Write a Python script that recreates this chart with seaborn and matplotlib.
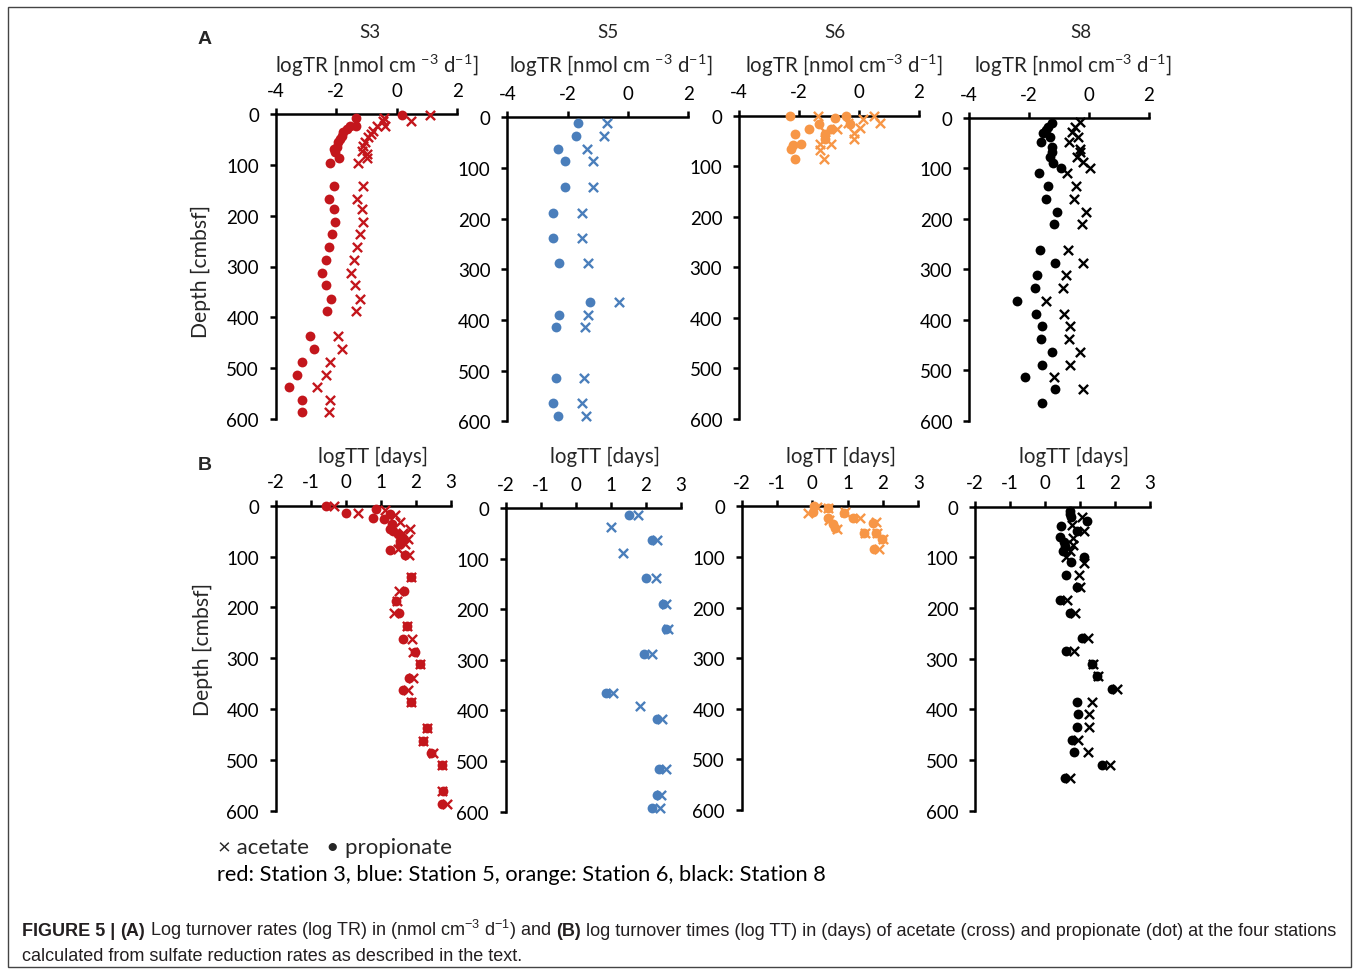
import numpy as np
import matplotlib
matplotlib.use("Agg")
import matplotlib.pyplot as plt
import seaborn as sns
from matplotlib.patches import Rectangle
from matplotlib import font_manager

# ---------------- data ----------------
RED, BLUE, ORANGE, BLACK = "#C3161C", "#4A7EBB", "#F79646", "#000000"

# Panel A: log turnover rates (logTR)
s3_tr_prop_depth = [1, 8, 24, 23, 30, 36, 43, 49, 56, 64, 68, 75, 87, 96, 142, 167, 187, 213, 237, 262, 287, 312, 337, 363, 387, 437, 462, 488, 513, 538, 563, 587]
s3_tr_prop = [0.18, -1.36, -1.36, -1.54, -1.65, -1.76, -1.82, -1.87, -1.93, -1.98, -2.07, -2.04, -1.92, -2.20, -2.06, -2.25, -2.08, -2.05, -2.14, -2.23, -2.33, -2.47, -2.33, -2.16, -2.29, -2.88, -2.74, -3.14, -3.28, -3.56, -3.14, -3.14]
s3_tr_ace_depth = [2, 14, 7, 14, 24, 23, 33, 39, 46, 56, 62, 72, 79, 87, 96, 142, 167, 187, 213, 237, 262, 287, 312, 337, 363, 387, 437, 462, 488, 513, 538, 563, 587]
s3_tr_ace = [1.11, 0.46, -0.42, -0.46, -0.39, -0.66, -0.77, -0.86, -0.94, -1.05, -1.13, -1.16, -1.00, -0.97, -1.27, -1.13, -1.32, -1.14, -1.10, -1.21, -1.30, -1.40, -1.52, -1.38, -1.20, -1.36, -1.95, -1.80, -2.20, -2.35, -2.62, -2.20, -2.23]

s5_tr_depth = [12, 37, 62, 87, 137, 188, 238, 287, 364, 390, 414, 514, 564, 589]
s5_tr_prop = [-1.65, -1.73, -2.32, -2.10, -2.10, -2.49, -2.49, -2.28, -1.25, -2.29, -2.37, -2.40, -2.47, -2.32]
s5_tr_ace = [-0.70, -0.80, -1.37, -1.16, -1.15, -1.53, -1.53, -1.34, -0.31, -1.34, -1.42, -1.46, -1.52, -1.39]

s6_tr_prop_depth = [0, 5, 1, 16, 16, 26, 36, 36, 26, 46, 56, 57, 66, 86]
s6_tr_prop = [-2.31, -0.81, -0.44, -0.29, -1.33, -1.66, -2.12, -1.13, -0.92, -1.13, -1.92, -2.19, -2.25, -2.14]
s6_tr_ace_depth = [0, 7, 0, 15, 14, 26, 25, 35, 46, 33, 56, 56, 67, 86]
s6_tr_ace = [-1.38, 0.13, 0.49, 0.69, -0.37, -0.73, 0.02, -0.17, -0.17, -1.14, -0.94, -1.31, -1.29, -1.18]

s8_tr_prop_depth = [9, 17, 24, 29, 38, 48, 58, 67, 78, 89, 99, 110, 135, 160, 186, 211, 262, 287, 311, 337, 362, 388, 413, 438, 464, 489, 513, 538, 564]
s8_tr_prop = [-1.23, -1.36, -1.45, -1.53, -1.29, -1.61, -1.23, -1.23, -1.30, -1.19, -0.95, -1.68, -1.37, -1.45, -1.06, -1.16, -1.63, -1.15, -1.73, -1.81, -2.39, -1.77, -1.58, -1.60, -1.24, -1.58, -2.12, -1.15, -1.58]
s8_tr_ace_depth = [7, 17, 27, 37, 48, 62, 68, 78, 88, 99, 110, 135, 160, 186, 211, 262, 287, 311, 337, 362, 388, 413, 438, 464, 489, 513, 538]
s8_tr_ace = [-0.29, -0.46, -0.56, -0.36, -0.67, -0.29, -0.29, -0.39, -0.20, 0.02, -0.75, -0.42, -0.51, -0.11, -0.22, -0.69, -0.20, -0.78, -0.86, -1.44, -0.82, -0.62, -0.66, -0.29, -0.62, -1.16, -0.20]

# Panel B: log turnover times (logTT)
s3_tt_prop_depth = [0, 14, 7, 25, 26, 16, 36, 46, 49, 56, 69, 66, 75, 87, 97, 141, 167, 187, 212, 236, 262, 287, 311, 338, 362, 387, 437, 462, 487, 511, 562, 587]
s3_tt_prop = [-0.57, 0.01, 0.86, 0.79, 1.10, 1.27, 1.31, 1.27, 1.36, 1.50, 1.55, 1.65, 1.54, 1.27, 1.68, 1.87, 1.66, 1.44, 1.52, 1.74, 1.63, 1.98, 2.12, 1.82, 1.65, 1.86, 2.31, 2.20, 2.44, 2.76, 2.77, 2.74]
s3_tt_ace_depth = [1, 15, 8, 18, 33, 46, 54, 66, 75, 85, 97, 141, 167, 187, 212, 236, 262, 287, 311, 338, 362, 387, 437, 462, 487, 511, 562, 587]
s3_tt_ace = [-0.33, 0.34, 1.13, 1.41, 1.55, 1.84, 1.65, 1.79, 1.70, 1.50, 1.82, 1.87, 1.52, 1.46, 1.38, 1.74, 1.88, 1.93, 2.12, 1.93, 1.79, 1.86, 2.31, 2.22, 2.50, 2.74, 2.74, 2.89]

s5_tt_prop_depth = [13, 63, 138, 189, 239, 289, 366, 416, 516, 567, 592]
s5_tt_prop = [1.52, 2.19, 2.02, 2.50, 2.57, 1.95, 0.86, 2.33, 2.38, 2.31, 2.19]
s5_tt_ace_depth = [13, 38, 89, 63, 138, 189, 239, 289, 366, 391, 416, 516, 567, 592]
s5_tt_ace = [1.79, 1.01, 1.35, 2.33, 2.29, 2.57, 2.64, 2.17, 1.07, 1.84, 2.46, 2.57, 2.45, 2.40]

s6_tt_prop_depth = [0, 12, 4, 24, 35, 42, 13, 24, 53, 33, 53, 64, 84]
s6_tt_prop = [0.06, 0.03, 0.43, 0.45, 0.59, 0.64, 0.90, 1.16, 1.47, 1.71, 1.80, 1.96, 1.75]
s6_tt_ace_depth = [13, 2, 4, 27, 45, 12, 24, 53, 32, 53, 65, 84]
s6_tt_ace = [-0.11, 0.12, 0.45, 0.48, 0.71, 0.93, 1.36, 1.50, 1.80, 1.84, 2.00, 1.88]

s8_tt_prop_depth = [8, 14, 21, 29, 39, 47, 59, 69, 78, 88, 99, 109, 134, 159, 184, 210, 260, 285, 310, 335, 360, 385, 410, 435, 460, 485, 510, 536]
s8_tt_prop = [0.70, 0.71, 0.73, 1.19, 0.45, 0.90, 0.43, 0.55, 0.57, 0.50, 1.10, 0.73, 0.60, 0.90, 0.43, 0.71, 1.07, 0.59, 1.35, 1.48, 1.90, 0.92, 0.95, 0.92, 0.76, 0.82, 1.63, 0.57]
s8_tt_ace_depth = [20, 47, 37, 62, 75, 87, 100, 111, 135, 159, 184, 210, 260, 285, 310, 335, 360, 385, 410, 435, 460, 485, 510, 536]
s8_tt_ace = [1.05, 1.11, 0.76, 0.79, 0.81, 0.70, 0.60, 1.10, 0.97, 1.00, 0.62, 0.86, 1.22, 0.83, 1.38, 1.50, 2.05, 1.35, 1.27, 1.27, 0.95, 1.24, 1.86, 0.70]

stations = ["S3", "S5", "S6", "S8"]
tr_label = ["logTR [nmol cm $^{-3}$ d$^{-1}$]", "logTR [nmol cm $^{-3}$ d$^{-1}$]",
            "logTR [nmol cm$^{-3}$ d$^{-1}$]", "logTR [nmol cm$^{-3}$ d$^{-1}$]"]
tt_label = "logTT [days]"
depth_label = "Depth [cmbsf]"
tr_ticks = [-4, -2, 0, 2]
tt_ticks = [-2, -1, 0, 1, 2, 3]
depth_ticks = [0, 100, 200, 300, 400, 500, 600]
legend_line1 = "\u00d7 acetate   \u2022 propionate"
legend_line2 = "red: Station 3, blue: Station 5, orange: Station 6, black: Station 8"

# ---------------- style ----------------
W, H = 1358, 970
sns.set_style("ticks")
plt.rcParams["font.family"] = ["Lato", "DejaVu Sans"]
plt.rcParams["axes.unicode_minus"] = False
plt.rcParams["mathtext.default"] = "regular"

names = {f.name for f in font_manager.fontManager.ttflist}
cap_family = "Liberation Sans Narrow" if "Liberation Sans Narrow" in names else "Liberation Sans"

fig = plt.figure(figsize=(W / 100, H / 100), dpi=100)
renderer = fig.canvas.get_renderer()


def fx(x):
    return x / W


def fy(y):
    return 1 - y / H


def add_ax(x0, x1, y0, y1):
    return fig.add_axes([fx(x0), fy(y1), (x1 - x0) / W, (y1 - y0) / H])


def panel(box, xlim, xticks, pd_, pv, ad, av, color):
    ax = add_ax(*box)
    sns.scatterplot(x=np.array(pv, float), y=np.array(pd_, float), ax=ax, marker="o", s=50,
                    color=color, linewidth=0, clip_on=False, zorder=3)
    sns.scatterplot(x=np.array(av, float), y=np.array(ad, float), ax=ax, marker="x", s=44,
                    color=color, linewidth=1.7, clip_on=False, zorder=4)
    ax.set_xlim(*xlim)
    ax.set_ylim(600, 0)
    ax.xaxis.tick_top()
    ax.set_xticks(xticks)
    ax.set_yticks(depth_ticks)
    ax.set_xlabel("")
    ax.set_ylabel("")
    for s in ["right", "bottom"]:
        ax.spines[s].set_visible(False)
    for s in ["top", "left"]:
        ax.spines[s].set_linewidth(1.8)
        ax.spines[s].set_color("black")
    ax.tick_params(axis="both", direction="out", length=4, width=1.8, labelsize=13.5,
                   colors="black")
    ax.tick_params(axis="x", pad=7)
    ax.tick_params(axis="y", pad=8)
    ax.patch.set_alpha(0)
    return ax


boxA = [(275.7, 457.3, 115, 420), (507.3, 688.3, 118.3, 422.3),
        (739, 919, 116.7, 420), (969, 1149, 119, 421.7)]
boxB = [(275.7, 450.7, 506.7, 811.7), (505.7, 680.7, 509, 812.7),
        (741.7, 918.3, 507.3, 811), (975, 1150, 507.7, 811.7)]

colors = [RED, BLUE, ORANGE, BLACK]
dataA = [(s3_tr_prop_depth, s3_tr_prop, s3_tr_ace_depth, s3_tr_ace),
         (s5_tr_depth, s5_tr_prop, s5_tr_depth, s5_tr_ace),
         (s6_tr_prop_depth, s6_tr_prop, s6_tr_ace_depth, s6_tr_ace),
         (s8_tr_prop_depth, s8_tr_prop, s8_tr_ace_depth, s8_tr_ace)]
dataB = [(s3_tt_prop_depth, s3_tt_prop, s3_tt_ace_depth, s3_tt_ace),
         (s5_tt_prop_depth, s5_tt_prop, s5_tt_ace_depth, s5_tt_ace),
         (s6_tt_prop_depth, s6_tt_prop, s6_tt_ace_depth, s6_tt_ace),
         (s8_tt_prop_depth, s8_tt_prop, s8_tt_ace_depth, s8_tt_ace)]

for i in range(4):
    panel(boxA[i], (-4, 2), tr_ticks, *dataA[i], colors[i])
    panel(boxB[i], (-2, 3), tt_ticks, *dataB[i], colors[i])

# titles / labels
title_x = [370, 608, 835, 1081]
trlab_x = [377, 611, 844, 1073]
ttlab_x = [373, 605, 841, 1074]
for i in range(4):
    fig.text(fx(title_x[i]), fy(32), stations[i], ha="center", va="center", fontsize=13.5)
    fig.text(fx(trlab_x[i]), fy(66), tr_label[i], ha="center", va="center", fontsize=14.8)
    fig.text(fx(ttlab_x[i]), fy(457), tt_label, ha="center", va="center", fontsize=14.8)

fig.text(fx(201), fy(272), depth_label, ha="center", va="center", rotation=90, fontsize=15.2)
fig.text(fx(203), fy(650), depth_label, ha="center", va="center", rotation=90, fontsize=15.2)
fig.text(fx(205), fy(40), "A", ha="center", va="center", fontsize=14, fontweight="bold",
         family="Liberation Sans")
fig.text(fx(205), fy(466), "B", ha="center", va="center", fontsize=14, fontweight="bold",
         family="Liberation Sans")


# legend text (fit to width)
def fit_text(x_px, y_px, s, target_w, family, fs0=13.0, color="black"):
    t = fig.text(fx(x_px), fy(y_px), s, ha="left", va="center", fontsize=fs0,
                 family=family, color=color)
    w = t.get_window_extent(renderer).width
    t.set_fontsize(fs0 * target_w / w)
    return t


t2 = fit_text(217, 875, legend_line2, 609, ["Lato", "DejaVu Sans"])
fs_leg = t2.get_fontsize()
fig.text(fx(218), fy(848), legend_line1, ha="left", va="center", fontsize=fs_leg * 1.02,
         family=["Lato", "DejaVu Sans"])

# caption with bold segments
CAP_COLOR = "#231F20"
cap1 = [("FIGURE 5 |", "bold"), ("(A)", "bold"),
        ("Log turnover rates (log TR) in (nmol cm$^{\u22123}$ d$^{\u22121}$) and", "normal"),
        ("(B)", "bold"),
        ("log turnover times (log TT) in (days) of acetate (cross) and propionate (dot) at the four stations", "normal")]
cap2 = [("calculated from sulfate reduction rates as described in the text.", "normal")]


def draw_rich(x_px, y_px, segs, fs):
    arts = []
    probe1 = fig.text(0, 0, "x x", fontsize=fs, family=cap_family)
    probe2 = fig.text(0, 0, "xx", fontsize=fs, family=cap_family)
    sp = probe1.get_window_extent(renderer).width - probe2.get_window_extent(renderer).width
    probe1.remove()
    probe2.remove()
    x = x_px
    for k, (txt, wt) in enumerate(segs):
        t = fig.text(fx(x), fy(y_px), txt, ha="left", va="baseline", fontsize=fs,
                     fontweight=wt, family=cap_family, color=CAP_COLOR)
        x += t.get_window_extent(renderer).width + sp
        arts.append(t)
    return arts, x - sp - x_px


arts, w = draw_rich(22, 936, cap1, 12.0)
for a in arts:
    a.remove()
fs_cap = 12.0 * 1318 / w
draw_rich(22, 936, cap1, fs_cap)
draw_rich(22, 961, cap2, fs_cap)

# outer frame
fig.add_artist(Rectangle((fx(8), fy(968)), (1351 - 8) / W, (968 - 8) / H,
                         transform=fig.transFigure, fill=False, edgecolor="#444444",
                         linewidth=1.0))

fig.savefig("out.png", dpi=100)
